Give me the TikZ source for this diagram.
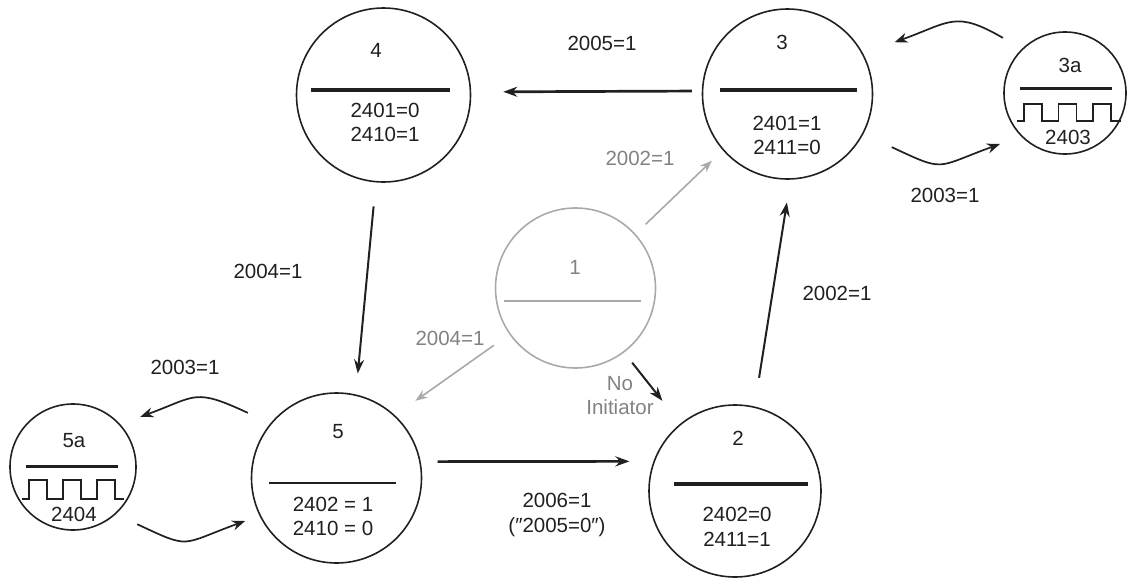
\documentclass[tikz,border=0pt]{standalone}
\usepackage{fontspec}
\setmainfont{Liberation Sans}
\usetikzlibrary{arrows.meta}
\definecolor{ink}{HTML}{231F20}
\definecolor{mute}{HTML}{A7A9AC}
\definecolor{mutetext}{HTML}{808285}

\begin{document}
\begin{tikzpicture}[
    x=1pt, y=-1pt,
    >=Stealth,
    every node/.style={font=\fontsize{20.5}{24.5}\selectfont, text=ink, inner sep=0pt, align=center},
    state/.style={circle, draw=ink, line width=1.6pt, minimum size=#1},
    idlestate/.style={state=#1, draw=mute},
    bar/.style={draw=ink, line width=3.4pt},
    thinbar/.style={draw=ink, line width=2pt},
    wave/.style={draw=ink, line width=1.5pt},
    flow/.style={-{Stealth[length=14pt,width=10pt]}, draw=ink, line width=2.7pt},
    thinflow/.style={flow, line width=2pt},
    waveflow/.style={-{Stealth[length=13pt,width=10pt]}, draw=ink, line width=1.7pt},
    muteflow/.style={-{Stealth[length=12pt,width=9pt]}, draw=mute, line width=1.6pt},
    mutelabel/.style={text=mutetext},
]
\useasboundingbox (0,0) rectangle (1130,581);

% ---- States ----
\node[state=174pt] (st4) at (383.5,95) {};
\node[state=170pt] (st3) at (787.5,94) {};
\node[idlestate=160pt] (st1) at (575.5,288) {};
\node[state=170pt] (st5) at (336.5,478) {};
\node[state=172pt] (st2) at (735,491) {};
\node[state=122pt] (st3a) at (1065,93) {};
\node[state=126pt] (st5a) at (73,467) {};

% State 4
\node (num4) at ([shift={(-7.5pt,45pt)}]st4.center) {4};
\draw[bar] ([shift={(-72.5pt,5pt)}]st4.center) -- ++(139pt,0);
\node (val4) at ([shift={(1.5pt,-27.5pt)}]st4.center) {2401=0\\2410=1};

% State 3
\node (num3) at ([shift={(-5.5pt,52pt)}]st3.center) {3};
\draw[bar] ([shift={(-67.5pt,4pt)}]st3.center) -- ++(137pt,0);
\node (val3) at ([shift={(-0.5pt,-41.5pt)}]st3.center) {2401=1\\2411=0};

% State 1 (start)
\node[mutelabel] (num1) at ([shift={(-0.5pt,21pt)}]st1.center) {1};
\draw[draw=mute, line width=2pt] ([shift={(-71.5pt,-13pt)}]st1.center) -- ++(137pt,0);

% State 5
\node (num5) at ([shift={(1.5pt,46pt)}]st5.center) {5};
\draw[thinbar] ([shift={(-67.5pt,-5pt)}]st5.center) -- ++(127pt,0);
\node (val5) at ([shift={(-3.5pt,-38.5pt)}]st5.center) {2402 = 1\\2410 = 0};

% State 2
\node (num2) at ([shift={(3pt,53pt)}]st2.center) {2};
\draw[bar] ([shift={(-61pt,7pt)}]st2.center) -- ++(134pt,0);
\node (val2) at ([shift={(2pt,-36pt)}]st2.center) {2402=0\\2411=1};

% State 3a
\node (num3a) at ([shift={(5pt,28pt)}]st3a.center) {3a};
\draw[bar, line width=3pt] ([shift={(-45pt,5pt)}]st3a.center) -- ++(92pt,0);
\draw[wave] ([shift={(-48pt,-28pt)}]st3a.center)
    \foreach \k in {1,2,3} { -- ++(7pt,0) -- ++(0,17pt) -- ++(18pt,0) -- ++(0,-17pt) -- ++(9.5pt,0) };
\node (val3a) at ([shift={(3pt,-44pt)}]st3a.center) {2403};

% State 5a
\node (num5a) at ([shift={(1pt,26pt)}]st5a.center) {5a};
\draw[bar, line width=3pt] ([shift={(-47pt,1pt)}]st5a.center) -- ++(92pt,0);
\draw[wave] ([shift={(-51pt,-32pt)}]st5a.center)
    \foreach \k in {1,2,3} { -- ++(7pt,0) -- ++(0,19pt) -- ++(18pt,0) -- ++(0,-19pt) -- ++(9pt,0) };
\node (val5a) at ([shift={(1pt,-47pt)}]st5a.center) {2404};

% ---- Transitions ----
\draw[flow, shorten <=10pt, shorten >=32pt] (st3.178) -- (st4.2);
\draw[thinflow, shorten <=24pt, shorten >=21pt] (st4.265) -- (st5.77);
\draw[flow, shorten <=17pt, shorten >=24pt] (st5.11) -- (st2.160);
\draw[thinflow, shorten <=29pt, shorten >=23pt] (st2.77) -- (st3.272);
\draw[thinflow, shorten <=13pt, shorten >=29pt] (st1.307) -- (st2.129);
\draw[muteflow, shorten <=14pt, shorten >=15pt] (st1.42) -- (st3.221);
\draw[muteflow, shorten <=19pt, shorten >=25pt] (st1.215) -- (st5.47);

% Loops to the sub states
\coordinate (w3a) at ([shift={(138.4:83pt)}]st3a.center);
\coordinate (w3b) at ([shift={(25.8:119pt)}]st3.center);
\coordinate (w3c) at ([shift={(333:117pt)}]st3.center);
\coordinate (w3d) at ([shift={(218.1:82.6pt)}]st3a.center);
\coordinate (w5a) at ([shift={(143.7:110pt)}]st5.center);
\coordinate (w5b) at ([shift={(36.7:84pt)}]st5a.center);
\coordinate (w5c) at ([shift={(318.3:86pt)}]st5a.center);
\coordinate (w5d) at ([shift={(205.2:101pt)}]st5.center);

\draw[waveflow] (w3a) to[out=150, in=20, out distance=55pt, in distance=60pt] (w3b);
\draw[waveflow] (w3c) to[out=-25, in=-160, out distance=60pt, in distance=70pt] (w3d);
\draw[waveflow] (w5a) to[out=155, in=20, out distance=60pt, in distance=60pt] (w5b);
\draw[waveflow] (w5c) to[out=-25, in=-160, out distance=60pt, in distance=70pt] (w5d);

% ---- Labels ----
\node (t34) at (602,43) {2005=1};
\node[mutelabel] (t13) at (640,158) {2002=1};
\node (t3a) at (945,195) {2003=1};
\node (t45) at (268,271) {2004=1};
\node (t23) at (837,293) {2002=1};
\node[mutelabel] (t15) at (450,338) {2004=1};
\node (t5a) at (185,367) {2003=1};
\node[mutelabel] (t12) at (620,395.5) {No\\Initiator};
\node (t52) at (557,515) {2006=1\\(″2005=0″)};

\end{tikzpicture}
\end{document}
